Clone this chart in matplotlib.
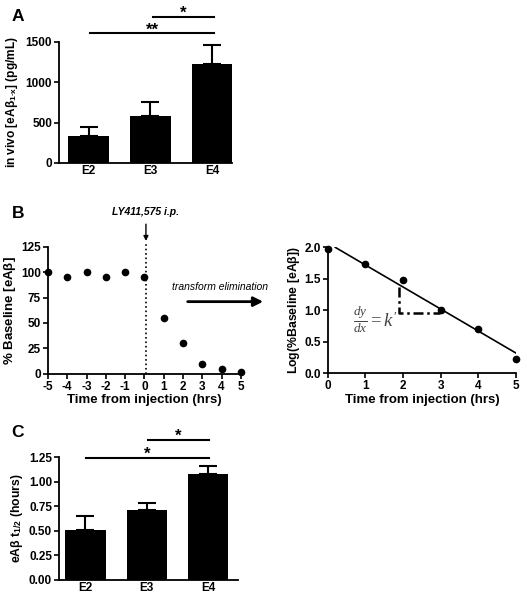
import matplotlib
matplotlib.use("Agg")
import matplotlib.pyplot as plt
import numpy as np

plt.rcParams['font.family'] = ['Liberation Sans', 'DejaVu Sans']
plt.rcParams['font.weight'] = 'bold'
plt.rcParams['axes.unicode_minus'] = False
plt.rcParams['mathtext.fontset'] = 'custom'
plt.rcParams['mathtext.rm'] = 'Liberation Serif:weight=normal'
plt.rcParams['mathtext.it'] = 'Liberation Serif:style=italic:weight=normal'
plt.rcParams['mathtext.sf'] = 'Liberation Sans:weight=bold'

# ---- data ----
genotypes = ["E2", "E3", "E4"]
a_means = [330, 585, 1230]
a_err = [120, 165, 230]

b_time = [-5, -4, -3, -2, -1, 0, 1, 2, 3, 4, 5]
b_pct = [100, 95, 100, 95, 100, 95, 55, 30, 10, 5, 2]

log_time = [0, 1, 2, 3, 4, 5]
log_pct = [1.98, 1.74, 1.48, 1.00, 0.70, 0.23]
fit_x = [0.2, 5.0]
fit_y = [2.0, 0.32]

c_means = [0.51, 0.71, 1.075]
c_err = [0.135, 0.07, 0.08]

TICK = 8.5
LAB = 9.5

fig = plt.figure(figsize=(5.27, 5.99), dpi=100)

def style(ax):
    for s in ['top', 'right']:
        ax.spines[s].set_visible(False)
    for s in ['left', 'bottom']:
        ax.spines[s].set_linewidth(1.3)
    ax.tick_params(width=1.2, length=3.5, labelsize=TICK, pad=1.5)
    for lbl in ax.get_xticklabels() + ax.get_yticklabels():
        lbl.set_fontweight('bold')

def bars(ax, means, err):
    x = np.arange(len(means))
    ax.bar(x, means, width=0.66, color='black')
    ax.errorbar(x, means, yerr=[np.zeros(len(err)), err], fmt='none',
                ecolor='black', elinewidth=1.5, capsize=6.5, capthick=1.5)
    ax.set_xticks(x)
    ax.set_xticklabels(genotypes)

def sig(ax, x0, x1, y, ytxt, txt):
    ax.plot([x0, x1], [y, y], color='black', lw=1.5, clip_on=False)
    ax.text((x0 + x1) / 2, ytxt, txt, ha='center', va='center',
            fontsize=12, fontweight='bold', clip_on=False)

# ---- Panel A ----
axA = fig.add_axes([0.112, 0.728, 0.328, 0.202])
bars(axA, a_means, a_err)
axA.set_xlim(-0.48, 2.32)
axA.set_ylim(0, 1500)
axA.set_yticks([0, 500, 1000, 1500])
axA.set_ylabel(r"in vivo [eA$\mathsf{\beta}_{\mathsf{1\text{-}x}}$] (pg/mL)", fontsize=8.6, fontweight='bold', labelpad=4)
style(axA)
axA.tick_params(axis='x', length=0)
sig(axA, 0.02, 2.03, 1612, 1650, "**")
sig(axA, 1.04, 2.03, 1810, 1850, "*")
fig.text(0.022, 0.972, "A", fontsize=12.5, fontweight='bold', va='center')

# ---- Panel B left ----
axB = fig.add_axes([0.091, 0.376, 0.366, 0.212])
axB.plot(b_time, b_pct, 'o', color='black', ms=4.5, clip_on=False)
axB.set_xlim(-5, 5)
axB.set_ylim(0, 125)
axB.set_xticks(range(-5, 6))
axB.set_yticks([0, 25, 50, 75, 100, 125])
axB.axvline(0.08, ymin=0, ymax=1.04, color='black', ls=':', lw=1.2, clip_on=False)
axB.annotate("", xy=(0.08, 128), xytext=(0.08, 150), annotation_clip=False,
             arrowprops=dict(arrowstyle='-|>', color='black', lw=1.0, mutation_scale=7))
axB.text(0.08, 159, "LY411,575 i.p.", ha='center', va='center', fontsize=7.5,
         fontweight='bold', style='italic', clip_on=False)
axB.annotate("", xy=(6.3, 71), xytext=(2.1, 71), annotation_clip=False,
             arrowprops=dict(arrowstyle='-|>', color='black', lw=2.0, mutation_scale=14))
axB.text(3.9, 85, "transform elimination", ha='center', va='center', fontsize=7.5,
         fontweight='normal', style='italic', clip_on=False)
axB.set_ylabel(r"% Baseline [eA$\mathsf{\beta}$]", fontsize=LAB, fontweight='bold', labelpad=2)
axB.set_xlabel("Time from injection (hrs)", fontsize=LAB, fontweight='bold', labelpad=1)
style(axB)
fig.text(0.022, 0.644, "B", fontsize=12.5, fontweight='bold', va='center')

# ---- Panel B right ----
axR = fig.add_axes([0.622, 0.377, 0.357, 0.210])
axR.plot(log_time, log_pct, 'o', color='black', ms=4.5, clip_on=False)
axR.plot(fit_x, fit_y, color='black', lw=1.2)
axR.plot([1.89, 1.89, 2.98], [1.37, 0.957, 0.957], color='black', lw=1.8,
         linestyle=(0, (4, 1.5, 1, 1.5)))
axR.text(1.27, 0.86, r"$\frac{dy}{dx}=k'$", ha='center', va='center', fontsize=13.5,
         fontweight='normal', color='#444444')
axR.set_xlim(0, 5)
axR.set_ylim(0, 2.0)
axR.set_xticks(range(0, 6))
axR.set_yticks([0, 0.5, 1.0, 1.5, 2.0])
axR.set_yticklabels(["0.0", "0.5", "1.0", "1.5", "2.0"])
axR.set_ylabel(r"Log(%Baseline [eA$\mathsf{\beta}$])", fontsize=8.8, fontweight='bold', labelpad=2)
axR.set_xlabel("Time from injection (hrs)", fontsize=LAB, fontweight='bold', labelpad=1)
style(axR)

# ---- Panel C ----
axC = fig.add_axes([0.112, 0.032, 0.34, 0.205])
bars(axC, c_means, c_err)
axC.set_xlim(-0.43, 2.49)
axC.set_ylim(0, 1.25)
axC.set_yticks([0, 0.25, 0.5, 0.75, 1.0, 1.25])
axC.set_yticklabels(["0.00", "0.25", "0.50", "0.75", "1.00", "1.25"])
axC.set_ylabel(r"eA$\mathsf{\beta}$ t$_{\mathsf{1/2}}$ (hours)", fontsize=8.8, fontweight='bold', labelpad=3)
style(axC)
axC.tick_params(axis='x', length=0)
sig(axC, 0.01, 2.01, 1.24, 1.275, "*")
sig(axC, 1.02, 2.01, 1.423, 1.458, "*")
fig.text(0.022, 0.278, "C", fontsize=12.5, fontweight='bold', va='center')

fig.savefig("out.png", dpi=100)
